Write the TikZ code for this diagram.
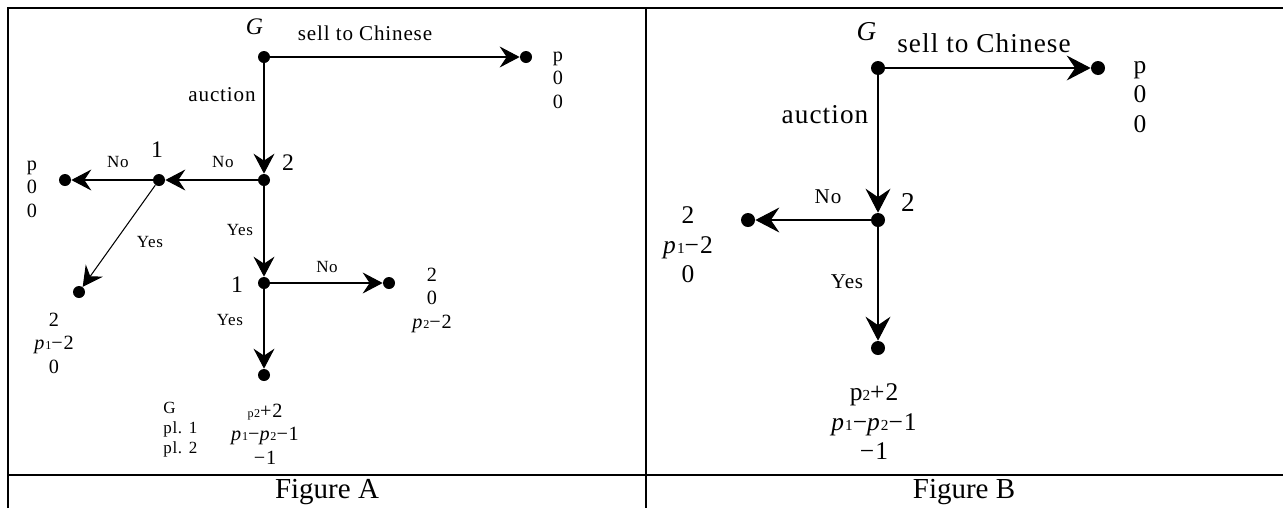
\documentclass[tikz,border=0pt]{standalone}
\usepackage{fontspec}
\setmainfont{Liberation Serif}
\newfontfamily\treefont{Liberation Serif}[LetterSpace=4]
\usepackage{tikz}
\usetikzlibrary{arrows.meta}
\newcommand{\pvar}[1]{\textit{p}\scalebox{0.6}{#1}}
\tikzset{
  choiceA/.style={circle, fill=black, inner sep=0pt, minimum size=0.24cm},
  choiceB/.style={circle, fill=black, inner sep=0pt, minimum size=0.28cm},
  moveA/.style={-{Stealth[length=0.4cm, width=0.42cm, inset=0.14cm]}, line width=0.6pt},
  moveB/.style={-{Stealth[length=0.48cm, width=0.5cm, inset=0.17cm]}, line width=0.6pt},
  txtA/.style={inner sep=0pt, font=\treefont\fontsize{12}{14}\selectfont},
  numA/.style={inner sep=0pt, font=\treefont\fontsize{13.5}{15}\selectfont},
  smallA/.style={inner sep=0pt, font=\treefont\fontsize{9.7}{11.4}\selectfont},
  payA/.style={inner sep=0pt, align=center, font=\treefont\fontsize{11.5}{13.4}\selectfont},
  txtB/.style={inner sep=0pt, font=\treefont\fontsize{15.5}{18}\selectfont},
  smallB/.style={inner sep=0pt, font=\treefont\fontsize{12}{14}\selectfont},
  payB/.style={inner sep=0pt, align=center, font=\treefont\fontsize{14.5}{16.8}\selectfont},
  caption/.style={inner sep=0pt, font=\fontsize{16.5}{19}\selectfont},
  frame/.style={line width=1pt},
}
\begin{document}
\begin{tikzpicture}[x=0.02cm, y=-0.02cm]
  \useasboundingbox (0,0) rectangle (1283,508);
  % table lines
  \draw[frame] (8,508) -- (8,8) -- (1283,8);
  \draw[frame] (646,8) -- (646,508);
  \draw[frame] (8,475) -- (1283,475);
  \node[caption] (capA) at (327,492) {Figure A};
  \node[caption] (capB) at (964,492) {Figure B};

  % Figure A
  \node[choiceA] (gA) at (264,57) {};
  \node[choiceA] (sA) at (264,180) {};
  \node[choiceA] (uA) at (159,180) {};
  \node[choiceA] (lA) at (264,283) {};
  \node[choiceA] (tA1) at (526,57) {};
  \node[choiceA] (tA2) at (65,180) {};
  \node[choiceA] (tA3) at (79,292) {};
  \node[choiceA] (tA4) at (389,283) {};
  \node[choiceA] (tA5) at (264,375) {};
  \foreach \a/\b in {gA/tA1, gA/sA, sA/uA, uA/tA2, uA/tA3, sA/lA, lA/tA4, lA/tA5}
    \draw[moveA] (\a) -- (\b);
  \node[numA] (gAl) at (255,27) {\textit{G}};
  \node[txtA] (sellA) at (365,33) {sell to Chinese};
  \node[txtA] (aucA) at (222,95) {auction};
  \node[numA] (sAl) at (288,163) {2};
  \node[numA] (uAl) at (157,150) {1};
  \node[numA] (lAl) at (237,285) {1};
  \node[smallA] (noA1) at (223,162) {No};
  \node[smallA] (noA2) at (118,162) {No};
  \node[smallA] (noA3) at (327,267) {No};
  \node[smallA] (yesA1) at (240,230) {Yes};
  \node[smallA] (yesA2) at (150,242) {Yes};
  \node[smallA] (yesA3) at (230,320) {Yes};
  \node[payA] (pA1) at (558,80) {p\\0\\0};
  \node[payA] (pA2) at (32,189) {p\\0\\0};
  \node[payA] (pA3) at (54,343) {2\\\pvar{1}−2\\0};
  \node[payA] (pA4) at (432,300) {2\\0\\\pvar{2}−2};
  \node[payA] (pA5) at (265,434) {\scalebox{0.6}{p2}+2\\\pvar{1}−\pvar{2}−1\\−1};
  \node[smallA, anchor=west, align=left] (whoA) at (163,430) {G\\pl. 1\\pl. 2};

  % Figure B
  \node[choiceB] (gB) at (878,68) {};
  \node[choiceB] (sB) at (878,220) {};
  \node[choiceB] (tB1) at (1098,68) {};
  \node[choiceB] (tB2) at (748,220) {};
  \node[choiceB] (tB3) at (878,348) {};
  \foreach \a/\b in {gB/tB1, gB/sB, sB/tB2, sB/tB3}
    \draw[moveB] (\a) -- (\b);
  \node[txtB] (gBl) at (867,32) {\textit{G}};
  \node[txtB] (sellB) at (984,43) {sell to Chinese};
  \node[txtB] (aucB) at (825,115) {auction};
  \node[txtB] (sBl) at (908,202) {2};
  \node[smallB] (noB) at (828,197) {No};
  \node[smallB] (yesB) at (847,282) {Yes};
  \node[payB] (pB1) at (1140,97) {p\\0\\0};
  \node[payB] (pB2) at (688,245) {2\\\pvar{1}−2\\0};
  \node[payB] (pB3) at (874,422) {p\scalebox{0.6}{2}+2\\\pvar{1}−\pvar{2}−1\\−1};
\end{tikzpicture}
\end{document}
